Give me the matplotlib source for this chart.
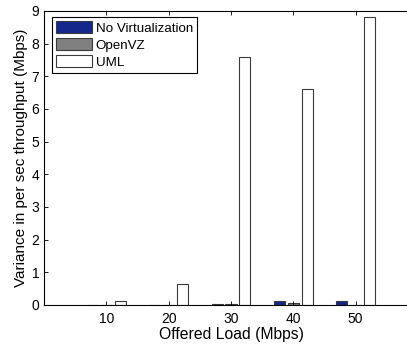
import matplotlib
matplotlib.use("Agg")
import matplotlib.pyplot as plt
import numpy as np

#------------------------------------------------------------
# data
loads = ["10", "20", "30", "40", "50"]
no_virt = [0.01, 0.01, 0.02, 0.11, 0.11]
openvz = [0.01, 0.01, 0.02, 0.05, 0.01]
uml = [0.12, 0.63, 7.6, 6.62, 8.82]

series_names = ["No Virtualization", "OpenVZ", "UML"]
series_colors = ["#14288c", "#808080", "#ffffff"]

#------------------------------------------------------------
plt.rcParams['font.family'] = ['Liberation Sans', 'DejaVu Sans']
plt.rcParams['font.size'] = 10

fig = plt.figure(figsize=(4.07, 3.47), dpi=100)
# axes runs past the right edge (cropped in the reference)
ax = fig.add_axes([44 / 407, 42 / 347, 374 / 407, 294 / 347])

x = np.arange(1, len(loads) + 1)
w = 0.18
step = 0.222
for i, (vals, name, col) in enumerate(zip([no_virt, openvz, uml], series_names, series_colors)):
    ax.bar(x + (i - 1) * step, vals, width=w, color=col, edgecolor="#3a3a3a",
           linewidth=0.8, label=name)

ax.set_xlim(0, 6)
ax.set_ylim(0, 9)
ax.set_xticks(x)
ax.set_xticklabels(loads)
ax.set_yticks(range(0, 10))
ax.spines["right"].set_visible(False)
ax.tick_params(direction="in", top=True, right=False, length=3, width=0.6)
ax.tick_params(axis="x", pad=5)
for s in ax.spines.values():
    s.set_linewidth(0.8)

ax.set_xlabel("Offered Load (Mbps)", fontsize=11.3, labelpad=1)
ax.set_ylabel("Variance in per sec throughput (Mbps)", fontsize=11, labelpad=2)

leg = ax.legend(loc="upper left", bbox_to_anchor=(0.021, 0.98), fancybox=False,
                framealpha=1, edgecolor="black", handlelength=2.7, handleheight=1.05,
                handletextpad=0.3, borderpad=0.3, labelspacing=0.25, borderaxespad=0,
                fontsize=9.6)
leg.get_frame().set_linewidth(0.8)

fig.savefig("out.png", dpi=100)
